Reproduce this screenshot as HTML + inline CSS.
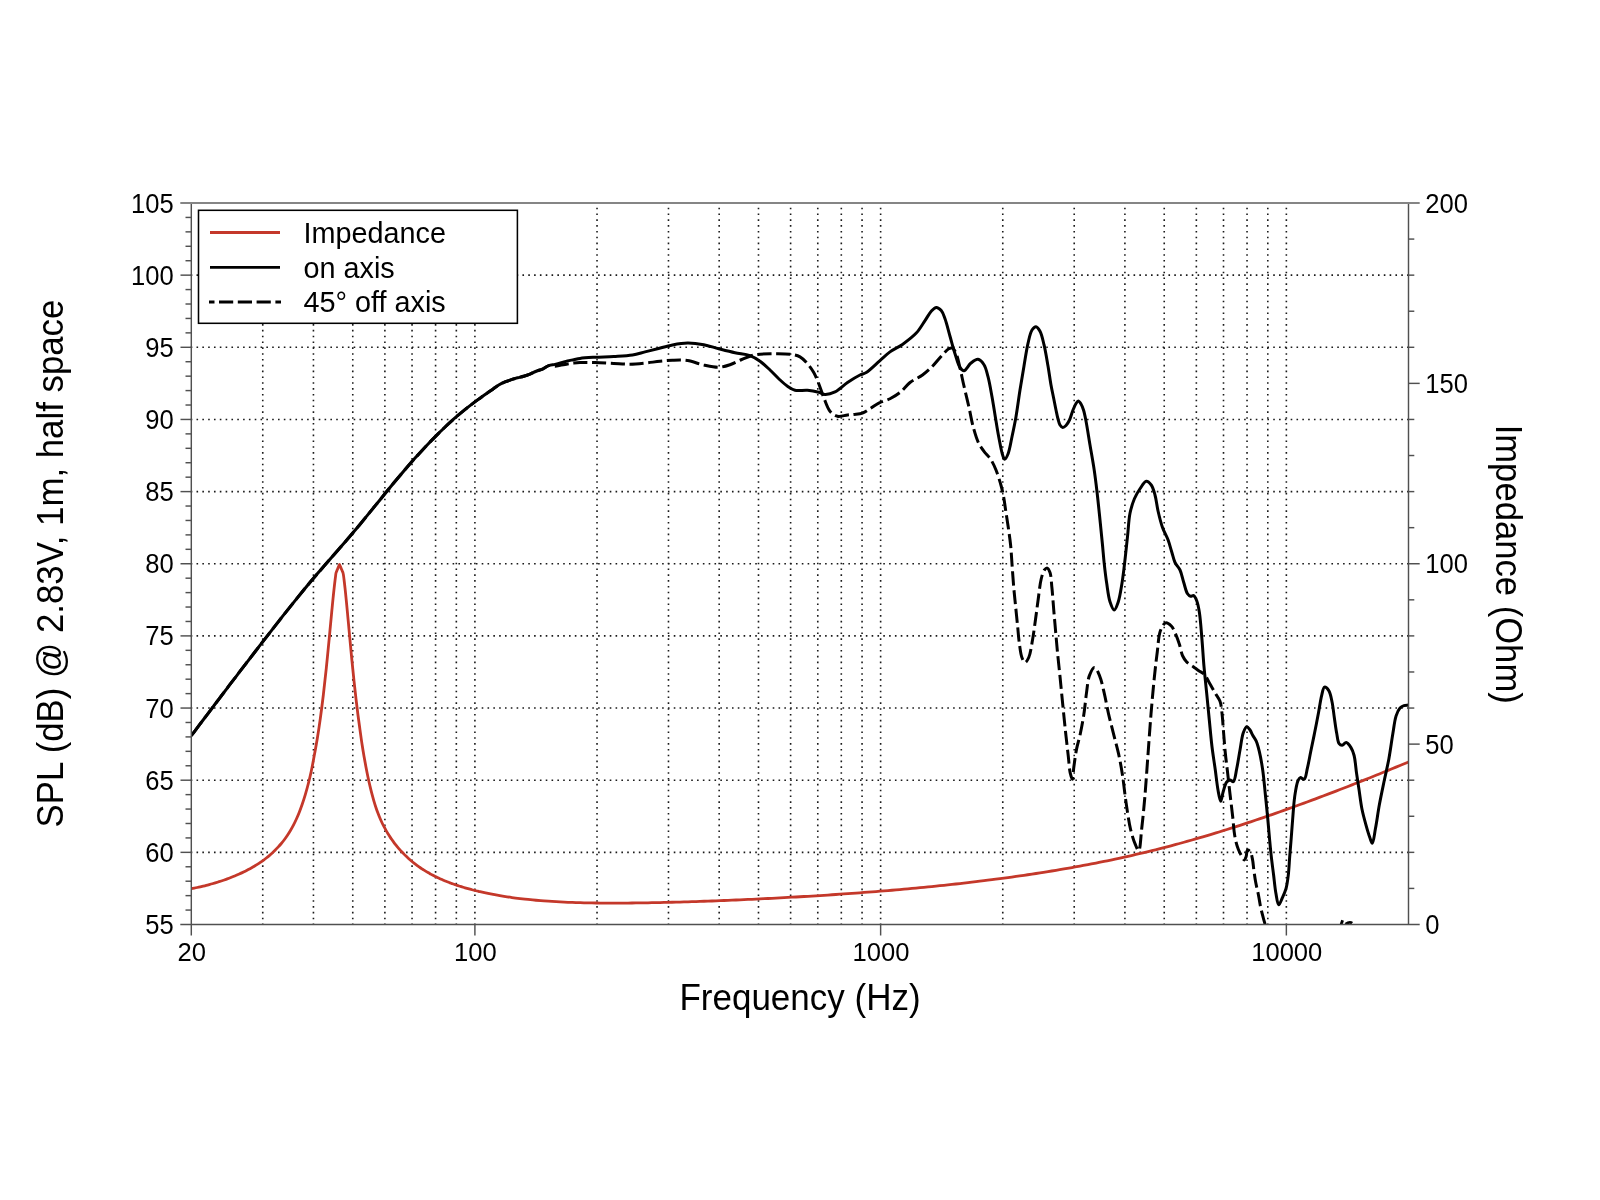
<!DOCTYPE html>
<html><head><meta charset="utf-8"><title>Chart</title>
<style>html,body{margin:0;padding:0;background:#fff;}svg{display:block;will-change:transform;}</style>
</head><body>
<svg width="1600" height="1200" viewBox="0 0 1600 1200">
<rect x="0" y="0" width="1600" height="1200" fill="#fff"/>
<g stroke="#1a1a1a" stroke-width="1.6" stroke-dasharray="1.6 4.22" fill="none"><line x1="262.75" y1="925.10" x2="262.75" y2="203.00"/><line x1="313.44" y1="925.10" x2="313.44" y2="203.00"/><line x1="352.76" y1="925.10" x2="352.76" y2="203.00"/><line x1="384.88" y1="925.10" x2="384.88" y2="203.00"/><line x1="412.05" y1="925.10" x2="412.05" y2="203.00"/><line x1="435.58" y1="925.10" x2="435.58" y2="203.00"/><line x1="456.33" y1="925.10" x2="456.33" y2="203.00"/><line x1="474.90" y1="925.10" x2="474.90" y2="203.00"/><line x1="597.03" y1="925.10" x2="597.03" y2="203.00"/><line x1="668.48" y1="925.10" x2="668.48" y2="203.00"/><line x1="719.17" y1="925.10" x2="719.17" y2="203.00"/><line x1="758.49" y1="925.10" x2="758.49" y2="203.00"/><line x1="790.62" y1="925.10" x2="790.62" y2="203.00"/><line x1="817.78" y1="925.10" x2="817.78" y2="203.00"/><line x1="841.31" y1="925.10" x2="841.31" y2="203.00"/><line x1="862.06" y1="925.10" x2="862.06" y2="203.00"/><line x1="880.63" y1="925.10" x2="880.63" y2="203.00"/><line x1="1002.77" y1="925.10" x2="1002.77" y2="203.00"/><line x1="1074.21" y1="925.10" x2="1074.21" y2="203.00"/><line x1="1124.90" y1="925.10" x2="1124.90" y2="203.00"/><line x1="1164.22" y1="925.10" x2="1164.22" y2="203.00"/><line x1="1196.35" y1="925.10" x2="1196.35" y2="203.00"/><line x1="1223.51" y1="925.10" x2="1223.51" y2="203.00"/><line x1="1247.04" y1="925.10" x2="1247.04" y2="203.00"/><line x1="1267.80" y1="925.10" x2="1267.80" y2="203.00"/><line x1="1286.36" y1="925.10" x2="1286.36" y2="203.00"/><line x1="190.70" y1="852.35" x2="1408.50" y2="852.35"/><line x1="190.70" y1="780.20" x2="1408.50" y2="780.20"/><line x1="190.70" y1="708.05" x2="1408.50" y2="708.05"/><line x1="190.70" y1="635.90" x2="1408.50" y2="635.90"/><line x1="190.70" y1="563.75" x2="1408.50" y2="563.75"/><line x1="190.70" y1="491.60" x2="1408.50" y2="491.60"/><line x1="190.70" y1="419.45" x2="1408.50" y2="419.45"/><line x1="190.70" y1="347.30" x2="1408.50" y2="347.30"/><line x1="190.70" y1="275.15" x2="1408.50" y2="275.15"/></g>
<defs><clipPath id="pc"><rect x="191.3" y="203.0" width="1217.2" height="722.0"/></clipPath></defs>
<g clip-path="url(#pc)" fill="none" stroke-linejoin="round">
<path d="M191.30,888.71 C192.30,888.52 193.30,888.33 194.30,888.13 C195.30,887.93 196.30,887.72 197.30,887.50 C198.30,887.29 199.30,887.07 200.30,886.84 C201.30,886.61 202.30,886.37 203.30,886.13 C204.30,885.89 205.30,885.64 206.30,885.38 C207.30,885.13 208.30,884.86 209.30,884.59 C210.30,884.32 211.30,884.05 212.30,883.76 C213.30,883.47 214.30,883.18 215.30,882.88 C216.30,882.58 217.30,882.27 218.30,881.96 C219.30,881.64 220.30,881.32 221.30,880.99 C222.30,880.65 223.30,880.31 224.30,879.96 C225.30,879.61 226.30,879.26 227.30,878.89 C228.30,878.52 229.30,878.15 230.30,877.76 C231.30,877.37 232.30,876.98 233.30,876.57 C234.30,876.17 235.30,875.75 236.30,875.32 C237.30,874.89 238.30,874.46 239.30,874.01 C240.30,873.56 241.30,873.09 242.30,872.62 C243.30,872.14 244.30,871.66 245.30,871.16 C246.30,870.65 247.30,870.14 248.30,869.61 C249.30,869.07 250.30,868.53 251.30,867.97 C252.30,867.40 253.30,866.82 254.30,866.22 C255.30,865.62 256.30,865.00 257.30,864.37 C258.30,863.73 259.31,863.07 260.30,862.39 C261.31,861.70 262.31,861.00 263.30,860.27 C264.31,859.54 265.31,858.78 266.30,858.00 C267.31,857.21 268.31,856.40 269.30,855.56 C270.31,854.70 271.31,853.82 272.30,852.91 C273.31,851.99 274.31,851.03 275.30,850.04 C276.31,849.03 277.31,847.99 278.30,846.92 C279.31,845.81 280.31,844.68 281.30,843.50 C282.31,842.28 283.32,841.03 284.30,839.72 C285.32,838.37 286.32,836.97 287.30,835.51 C288.32,833.99 289.32,832.41 290.30,830.77 C291.32,829.04 292.32,827.25 293.30,825.38 C294.33,823.42 295.33,821.37 296.30,819.23 C297.33,816.97 298.33,814.62 299.30,812.17 C300.33,809.57 301.33,806.87 302.30,804.05 C303.33,801.04 304.33,797.92 305.30,794.66 C306.34,791.17 307.33,787.55 308.30,783.77 C309.34,779.70 310.35,775.53 311.30,771.06 C312.36,766.11 313.32,760.68 314.30,755.35 C315.32,749.83 316.34,744.35 317.30,738.49 C318.34,732.14 319.34,725.51 320.30,718.61 C321.34,711.14 322.33,703.32 323.30,695.22 C324.34,686.51 325.33,677.38 326.30,668.06 C327.33,658.20 328.65,644.30 329.30,637.59 C329.62,634.28 329.79,632.44 330.00,630.18 C330.18,628.26 330.33,626.64 330.50,624.87 C330.67,623.10 330.83,621.33 331.00,619.56 C331.17,617.80 331.33,616.04 331.50,614.29 C331.67,612.54 331.83,610.80 332.00,609.06 C332.17,607.34 332.33,605.62 332.50,603.92 C332.67,602.23 332.83,600.55 333.00,598.89 C333.17,597.25 333.33,595.61 333.50,594.00 C333.67,592.42 333.83,590.85 334.00,589.30 C334.16,587.78 334.33,586.28 334.50,584.81 C334.66,583.38 334.83,581.96 335.00,580.58 C335.16,579.24 335.33,577.92 335.50,576.64 C335.66,575.41 335.78,573.96 336.00,573.04 C336.14,572.44 336.33,572.06 336.50,571.60 C336.66,571.18 336.83,570.80 337.00,570.40 C337.17,570.00 337.33,569.60 337.50,569.20 C337.67,568.80 337.83,568.40 338.00,568.00 C338.17,567.60 338.33,567.20 338.50,566.80 C338.67,566.40 338.83,566.00 339.00,565.60 C339.17,565.20 339.33,564.40 339.50,564.40 C339.67,564.40 339.83,565.20 340.00,565.60 C340.17,566.00 340.33,566.40 340.50,566.80 C340.67,567.20 340.83,567.60 341.00,568.00 C341.17,568.40 341.33,568.80 341.50,569.20 C341.67,569.60 341.83,570.00 342.00,570.40 C342.17,570.80 342.33,571.20 342.50,571.60 C342.67,572.00 342.85,572.31 343.00,572.80 C343.21,573.49 343.35,574.44 343.50,575.40 C343.69,576.56 343.84,577.95 344.00,579.27 C344.17,580.63 344.34,582.04 344.50,583.46 C344.67,584.92 344.84,586.42 345.00,587.93 C345.17,589.47 345.34,591.05 345.50,592.64 C345.67,594.26 345.83,595.90 346.00,597.55 C346.17,599.23 346.33,600.92 346.50,602.63 C346.67,604.35 346.83,606.09 347.00,607.84 C347.17,609.60 347.33,611.37 347.50,613.15 C347.67,614.93 347.83,616.73 348.00,618.52 C348.17,620.32 348.33,622.13 348.50,623.94 C348.67,625.75 348.83,627.56 349.00,629.37 C349.17,631.18 349.33,632.99 349.50,634.80 C349.67,636.60 349.78,637.81 350.00,640.20 C350.44,644.92 351.32,654.35 352.00,661.25 C352.66,667.93 353.32,674.53 354.00,680.95 C354.65,687.09 355.32,693.12 356.00,698.97 C356.65,704.53 357.31,709.97 358.00,715.24 C358.65,720.25 359.33,725.03 360.00,729.85 C360.66,734.59 361.31,739.41 362.00,743.94 C362.65,748.18 363.32,752.22 364.00,756.20 C364.65,759.98 365.32,763.66 366.00,767.24 C366.65,770.65 367.32,773.97 368.00,777.19 C368.65,780.26 369.32,783.24 370.00,786.14 C370.65,788.90 371.31,791.57 372.00,794.17 C372.65,796.63 373.31,799.03 374.00,801.34 C374.65,803.54 375.31,805.66 376.00,807.71 C376.65,809.65 377.31,811.52 378.00,813.33 C378.65,815.05 379.32,816.70 380.00,818.30 C380.65,819.83 381.32,821.30 382.00,822.73 C382.65,824.10 383.32,825.43 384.00,826.72 C384.66,827.97 385.32,829.17 386.00,830.36 C386.66,831.51 387.32,832.63 388.00,833.73 C388.66,834.80 389.33,835.85 390.00,836.87 C390.66,837.87 391.33,838.85 392.00,839.81 C392.66,840.74 393.33,841.66 394.00,842.56 C394.66,843.44 395.33,844.30 396.00,845.15 C396.66,845.98 397.33,846.79 398.00,847.58 C398.66,848.37 399.33,849.13 400.00,849.89 C400.66,850.63 401.33,851.35 402.00,852.07 C402.66,852.77 403.33,853.46 404.00,854.13 C404.66,854.80 405.33,855.46 406.00,856.10 C406.66,856.73 407.33,857.36 408.00,857.97 C408.66,858.57 409.33,859.17 410.00,859.75 C410.66,860.33 411.33,860.89 412.00,861.45 C412.66,862.00 413.33,862.54 414.00,863.07 C414.66,863.60 415.33,864.12 416.00,864.62 C416.66,865.13 417.33,865.62 418.00,866.10 C418.66,866.58 419.33,867.06 420.00,867.52 C420.66,867.98 421.33,868.43 422.00,868.87 C422.66,869.31 423.33,869.74 424.00,870.16 C424.66,870.58 425.33,870.99 426.00,871.40 C426.66,871.80 427.33,872.19 428.00,872.58 C428.66,872.96 429.33,873.34 430.00,873.71 C430.67,874.07 431.33,874.44 432.00,874.79 C432.67,875.14 433.33,875.49 434.00,875.83 C434.67,876.17 435.33,876.50 436.00,876.83 C436.67,877.15 437.33,877.47 438.00,877.78 C438.67,878.10 439.33,878.40 440.00,878.71 C440.67,879.01 441.33,879.30 442.00,879.59 C442.67,879.88 443.33,880.17 444.00,880.45 C444.67,880.73 445.33,881.00 446.00,881.27 C446.67,881.54 447.33,881.80 448.00,882.06 C448.67,882.32 449.33,882.58 450.00,882.83 C450.67,883.08 451.33,883.32 452.00,883.57 C452.67,883.81 453.33,884.05 454.00,884.28 C454.67,884.51 455.33,884.74 456.00,884.97 C456.67,885.19 457.33,885.42 458.00,885.64 C458.67,885.85 459.33,886.07 460.00,886.28 C460.67,886.49 461.33,886.70 462.00,886.90 C462.67,887.11 463.33,887.31 464.00,887.51 C464.67,887.70 465.33,887.90 466.00,888.09 C466.67,888.28 467.33,888.47 468.00,888.66 C468.67,888.84 469.33,889.02 470.00,889.20 C470.67,889.38 471.33,889.56 472.00,889.74 C472.67,889.91 473.33,890.08 474.00,890.25 C474.67,890.42 475.33,890.59 476.00,890.75 C476.67,890.91 477.33,891.07 478.00,891.23 C478.67,891.39 479.11,891.50 480.00,891.70 C481.78,892.10 485.33,892.89 488.00,893.44 C490.66,893.99 493.33,894.50 496.00,894.98 C498.66,895.46 501.33,895.91 504.00,896.34 C506.66,896.76 509.33,897.16 512.00,897.53 C514.66,897.91 517.33,898.25 520.00,898.58 C522.67,898.90 525.33,899.20 528.00,899.48 C530.67,899.76 533.33,900.01 536.00,900.25 C538.67,900.49 541.33,900.71 544.00,900.91 C546.67,901.11 549.33,901.29 552.00,901.46 C554.67,901.62 557.33,901.77 560.00,901.91 C562.67,902.05 565.33,902.17 568.00,902.28 C570.67,902.39 573.33,902.49 576.00,902.57 C578.67,902.66 581.33,902.73 584.00,902.79 C586.67,902.86 589.33,902.91 592.00,902.95 C594.67,902.99 597.33,903.03 600.00,903.05 C602.67,903.08 605.33,903.09 608.00,903.10 C610.67,903.11 613.33,903.11 616.00,903.11 C618.67,903.10 621.33,903.09 624.00,903.08 C626.67,903.06 629.33,903.04 632.00,903.01 C634.67,902.98 637.33,902.95 640.00,902.91 C642.67,902.87 645.33,902.83 648.00,902.78 C650.67,902.74 653.33,902.69 656.00,902.63 C658.67,902.58 661.33,902.52 664.00,902.46 C666.67,902.39 669.33,902.33 672.00,902.26 C674.67,902.19 677.33,902.11 680.00,902.04 C682.67,901.96 685.33,901.88 688.00,901.80 C690.67,901.72 693.33,901.63 696.00,901.54 C698.67,901.45 701.33,901.36 704.00,901.27 C706.67,901.17 709.33,901.08 712.00,900.98 C714.67,900.88 717.33,900.77 720.00,900.67 C722.67,900.56 725.33,900.46 728.00,900.35 C730.67,900.24 733.33,900.12 736.00,900.01 C738.67,899.89 741.33,899.77 744.00,899.65 C746.67,899.53 749.33,899.41 752.00,899.29 C754.67,899.16 757.33,899.03 760.00,898.90 C762.67,898.77 765.33,898.64 768.00,898.50 C770.67,898.37 773.33,898.23 776.00,898.09 C778.67,897.95 781.33,897.81 784.00,897.66 C786.67,897.52 789.33,897.37 792.00,897.22 C794.67,897.07 797.33,896.91 800.00,896.76 C802.67,896.60 805.33,896.44 808.00,896.28 C810.67,896.12 813.33,895.96 816.00,895.79 C818.67,895.62 821.33,895.45 824.00,895.28 C826.67,895.11 829.33,894.94 832.00,894.76 C834.67,894.58 837.33,894.40 840.00,894.21 C842.67,894.03 845.33,893.84 848.00,893.65 C850.67,893.46 853.33,893.27 856.00,893.07 C858.67,892.88 861.33,892.68 864.00,892.47 C866.67,892.27 869.33,892.07 872.00,891.86 C874.67,891.65 877.33,891.43 880.00,891.22 C882.67,891.00 885.33,890.78 888.00,890.56 C890.67,890.33 893.33,890.11 896.00,889.87 C898.67,889.64 901.33,889.41 904.00,889.17 C906.67,888.93 909.33,888.69 912.00,888.44 C914.67,888.19 917.33,887.94 920.00,887.69 C922.67,887.43 925.33,887.18 928.00,886.91 C930.67,886.65 933.33,886.38 936.00,886.11 C938.67,885.84 941.33,885.56 944.00,885.28 C946.67,885.00 949.33,884.71 952.00,884.42 C954.67,884.13 957.33,883.84 960.00,883.54 C962.67,883.24 965.33,882.93 968.00,882.62 C970.67,882.31 973.33,882.00 976.00,881.68 C978.67,881.36 981.33,881.03 984.00,880.70 C986.67,880.37 989.33,880.03 992.00,879.69 C994.67,879.35 997.33,879.00 1000.00,878.65 C1002.67,878.29 1005.33,877.93 1008.00,877.57 C1010.67,877.20 1013.33,876.83 1016.00,876.45 C1018.67,876.07 1021.33,875.69 1024.00,875.30 C1026.67,874.91 1029.33,874.51 1032.00,874.11 C1034.67,873.70 1037.33,873.29 1040.00,872.88 C1042.67,872.46 1045.33,872.04 1048.00,871.60 C1050.67,871.17 1053.33,870.73 1056.00,870.29 C1058.67,869.84 1061.33,869.39 1064.00,868.93 C1066.67,868.47 1069.33,868.00 1072.00,867.52 C1074.67,867.05 1077.33,866.56 1080.00,866.07 C1082.67,865.58 1085.33,865.08 1088.00,864.57 C1090.67,864.06 1093.33,863.55 1096.00,863.02 C1098.67,862.50 1101.33,861.96 1104.00,861.42 C1106.67,860.88 1109.33,860.33 1112.00,859.77 C1114.67,859.21 1117.33,858.64 1120.00,858.06 C1122.67,857.48 1125.33,856.90 1128.00,856.30 C1130.67,855.70 1133.33,855.09 1136.00,854.48 C1138.67,853.86 1141.33,853.24 1144.00,852.60 C1146.67,851.96 1149.33,851.32 1152.00,850.66 C1154.67,850.00 1157.33,849.33 1160.00,848.66 C1162.67,847.98 1165.33,847.29 1168.00,846.59 C1170.67,845.89 1173.33,845.18 1176.00,844.46 C1178.67,843.74 1181.33,843.01 1184.00,842.26 C1186.67,841.52 1189.33,840.77 1192.00,840.01 C1194.67,839.25 1197.33,838.48 1200.00,837.70 C1202.67,836.92 1205.33,836.13 1208.00,835.33 C1210.67,834.53 1213.33,833.72 1216.00,832.91 C1218.67,832.09 1221.33,831.27 1224.00,830.43 C1226.67,829.60 1229.33,828.75 1232.00,827.90 C1234.67,827.05 1237.33,826.19 1240.00,825.33 C1242.67,824.46 1245.33,823.59 1248.00,822.70 C1250.67,821.82 1253.33,820.93 1256.00,820.03 C1258.67,819.13 1261.33,818.23 1264.00,817.32 C1266.67,816.40 1269.33,815.48 1272.00,814.56 C1274.67,813.63 1277.33,812.70 1280.00,811.76 C1282.67,810.82 1285.33,809.87 1288.00,808.92 C1290.67,807.96 1293.33,807.00 1296.00,806.04 C1298.67,805.07 1301.33,804.10 1304.00,803.12 C1306.67,802.14 1309.33,801.15 1312.00,800.16 C1314.67,799.17 1317.33,798.18 1320.00,797.17 C1322.67,796.17 1325.33,795.16 1328.00,794.15 C1330.67,793.13 1333.33,792.11 1336.00,791.09 C1338.67,790.06 1341.33,789.03 1344.00,788.00 C1346.67,786.96 1349.33,785.92 1352.00,784.87 C1354.67,783.83 1357.33,782.77 1360.00,781.72 C1362.67,780.66 1365.33,779.60 1368.00,778.53 C1370.67,777.47 1373.33,776.39 1376.00,775.32 C1378.67,774.24 1381.33,773.16 1384.00,772.07 C1386.67,770.99 1389.33,769.90 1392.00,768.80 C1394.67,767.70 1397.33,766.60 1400.00,765.50 C1402.67,764.39 1406.93,762.61 1408.00,762.17 C1408.27,762.06 1408.33,762.03 1408.50,761.96" stroke="#c4382a" stroke-width="2.8"/>
<path d="M191.30,735.78 C193.63,732.66 195.97,729.53 198.30,726.41 C200.63,723.30 202.97,720.19 205.30,717.08 C207.63,713.98 209.97,710.88 212.30,707.79 C214.63,704.70 216.97,701.61 219.30,698.53 C221.63,695.45 223.97,692.37 226.30,689.30 C228.63,686.24 230.97,683.17 233.30,680.11 C235.63,677.06 237.97,674.00 240.30,670.96 C242.63,667.91 244.97,664.87 247.30,661.83 C249.63,658.79 251.97,655.76 254.30,652.73 C256.63,649.71 258.97,646.69 261.30,643.67 C263.63,640.65 265.97,637.64 268.30,634.63 C270.63,631.63 272.96,628.63 275.30,625.63 C277.63,622.65 279.96,619.66 282.30,616.69 C284.63,613.73 286.96,610.78 289.30,607.84 C291.63,604.91 293.96,601.99 296.30,599.10 C298.63,596.21 300.96,593.34 303.30,590.49 C305.63,587.66 307.96,584.84 310.30,582.05 C312.63,579.28 314.96,576.53 317.30,573.80 C319.63,571.09 321.96,568.40 324.30,565.71 C326.63,563.04 328.97,560.38 331.30,557.72 C333.63,555.05 335.97,552.40 338.30,549.73 C340.64,547.06 342.97,544.39 345.30,541.70 C347.64,538.99 349.97,536.27 352.30,533.53 C354.64,530.76 356.97,527.97 359.30,525.17 C361.64,522.35 363.97,519.51 366.30,516.66 C368.64,513.80 370.97,510.93 373.30,508.06 C375.63,505.18 377.97,502.30 380.30,499.43 C382.63,496.55 384.96,493.68 387.30,490.82 C389.63,487.98 391.96,485.13 394.30,482.32 C396.63,479.51 398.96,476.72 401.30,473.96 C403.63,471.22 405.96,468.50 408.30,465.81 C410.62,463.14 412.96,460.49 415.30,457.87 C417.62,455.28 419.96,452.71 422.30,450.18 C424.62,447.67 426.96,445.19 429.30,442.74 C431.62,440.32 433.95,437.93 436.30,435.58 C438.62,433.26 440.95,430.96 443.30,428.72 C445.62,426.49 447.95,424.31 450.30,422.17 C452.62,420.05 454.95,417.97 457.30,415.95 C459.62,413.95 461.95,411.99 464.30,410.08 C466.62,408.20 468.95,406.36 471.30,404.57 C473.62,402.80 476.76,400.50 478.30,399.38 C479.06,398.83 479.25,398.69 480.00,398.16 C481.43,397.14 484.16,395.21 486.25,393.75 C488.33,392.29 490.42,390.86 492.50,389.40 C494.59,387.94 496.62,386.27 498.75,385.00 C500.79,383.79 502.89,382.79 505.00,381.90 C507.06,381.03 509.16,380.39 511.25,379.70 C513.33,379.02 515.41,378.38 517.50,377.80 C519.58,377.23 521.68,376.86 523.75,376.25 C525.85,375.63 527.94,374.92 530.00,374.10 C532.10,373.26 534.15,372.09 536.25,371.25 C538.31,370.43 540.46,370.01 542.50,369.10 C544.63,368.15 546.59,366.04 548.75,365.60 C550.77,365.18 552.92,366.35 555.00,366.25 C557.09,366.15 559.16,365.38 561.25,365.00 C563.33,364.63 565.42,364.32 567.50,364.00 C569.58,363.68 571.66,363.33 573.75,363.10 C575.83,362.87 577.47,362.70 580.00,362.60 C583.92,362.44 589.72,362.47 595.00,362.60 C600.90,362.74 607.72,363.23 613.75,363.50 C619.36,363.76 624.69,364.28 630.00,364.20 C635.10,364.12 640.01,363.59 645.00,363.10 C650.01,362.61 655.22,361.74 660.00,361.25 C664.35,360.81 668.14,360.37 672.50,360.25 C677.27,360.12 682.44,359.87 687.50,360.60 C692.85,361.38 698.41,363.88 703.75,365.00 C708.82,366.06 714.12,367.41 718.75,367.25 C722.78,367.11 726.31,365.97 730.00,364.75 C733.81,363.49 737.38,361.34 741.25,359.75 C745.28,358.09 749.08,356.02 753.75,355.00 C759.29,353.79 766.25,353.85 772.50,353.75 C778.75,353.65 786.22,353.61 791.25,354.40 C794.76,354.95 797.35,355.42 800.00,356.90 C802.80,358.46 805.23,361.19 807.50,363.75 C809.83,366.38 811.92,369.30 813.75,372.50 C815.71,375.92 817.15,379.78 818.75,383.75 C820.50,388.08 821.89,392.95 823.75,397.50 C825.64,402.12 827.27,408.04 830.00,411.25 C832.11,413.73 834.68,415.58 837.50,416.25 C840.48,416.95 844.55,415.33 847.50,415.00 C849.82,414.74 851.50,414.68 853.75,414.40 C856.43,414.07 859.78,414.05 862.50,413.10 C865.19,412.16 867.42,410.33 870.00,408.75 C872.82,407.02 875.56,404.73 878.75,403.10 C882.18,401.35 886.44,400.53 890.00,398.75 C893.52,396.99 896.80,395.04 900.00,392.50 C903.50,389.72 906.28,385.40 910.00,382.50 C913.77,379.55 918.68,377.78 922.50,375.00 C926.15,372.34 929.38,369.38 932.50,366.25 C935.62,363.12 938.40,359.30 941.25,356.25 C943.80,353.52 946.51,349.91 948.75,348.75 C950.09,348.05 951.38,347.62 952.50,348.10 C953.99,348.74 955.16,351.33 956.25,353.75 C957.85,357.32 958.82,363.10 960.00,368.00 C961.24,373.17 962.19,378.23 963.50,384.00 C965.05,390.81 967.10,398.93 968.75,406.25 C970.36,413.36 971.51,420.81 973.30,427.30 C974.89,433.05 976.59,438.99 978.70,443.30 C980.29,446.55 982.05,448.69 984.00,451.30 C986.03,454.02 988.75,456.31 990.70,459.30 C992.79,462.50 994.37,465.99 996.00,470.00 C997.95,474.79 999.90,481.30 1001.25,486.25 C1002.36,490.32 1003.04,493.64 1003.75,497.50 C1004.50,501.54 1004.93,505.56 1005.60,510.00 C1006.36,515.06 1007.29,520.64 1008.10,526.25 C1008.96,532.27 1009.96,538.85 1010.60,545.00 C1011.21,550.92 1011.43,556.15 1011.90,562.50 C1012.46,570.09 1013.08,579.77 1013.75,587.50 C1014.33,594.20 1014.98,600.00 1015.60,606.25 C1016.23,612.50 1016.87,618.75 1017.50,625.00 C1018.13,631.25 1018.59,638.00 1019.40,643.75 C1020.10,648.70 1020.61,654.14 1021.90,657.50 C1022.74,659.68 1023.88,662.45 1025.00,662.50 C1026.16,662.55 1027.69,659.83 1028.75,657.50 C1030.54,653.56 1031.40,646.14 1032.50,640.00 C1033.71,633.28 1034.64,625.61 1035.60,618.75 C1036.50,612.31 1037.19,606.44 1038.10,600.00 C1039.07,593.13 1039.87,584.23 1041.25,578.75 C1042.16,575.14 1043.03,571.75 1044.40,570.00 C1045.23,568.94 1046.39,567.92 1047.25,568.10 C1048.31,568.33 1049.28,570.49 1050.00,572.50 C1051.22,575.93 1051.32,581.99 1051.90,587.50 C1052.60,594.24 1053.12,602.61 1053.75,610.00 C1054.36,617.19 1054.98,624.17 1055.60,631.25 C1056.23,638.33 1056.79,645.13 1057.50,652.50 C1058.27,660.50 1059.24,668.97 1060.10,677.50 C1061.00,686.45 1061.88,695.84 1062.80,705.00 C1063.72,714.14 1064.65,723.58 1065.60,732.40 C1066.49,740.64 1067.48,749.07 1068.30,756.30 C1068.99,762.31 1069.25,768.62 1070.20,772.80 C1070.81,775.47 1071.83,779.26 1072.40,779.20 C1073.16,779.12 1073.21,771.69 1073.80,767.30 C1074.54,761.83 1075.46,754.65 1076.60,748.90 C1077.63,743.73 1079.07,739.58 1080.20,734.30 C1081.52,728.13 1082.85,720.99 1083.90,714.10 C1084.99,706.94 1085.61,698.90 1086.60,692.10 C1087.46,686.19 1087.73,680.02 1089.40,675.60 C1090.67,672.24 1092.81,667.39 1094.50,667.40 C1096.18,667.41 1098.07,672.27 1099.50,675.60 C1101.41,680.04 1102.58,686.18 1104.00,692.10 C1105.63,698.88 1106.92,706.78 1108.60,714.10 C1110.29,721.45 1112.35,729.10 1114.10,736.10 C1115.70,742.48 1117.34,748.13 1118.70,754.40 C1120.12,760.94 1121.26,767.33 1122.40,774.60 C1123.73,783.05 1124.63,792.95 1126.00,802.10 C1127.37,811.25 1128.77,821.83 1130.60,829.50 C1131.97,835.21 1133.57,840.37 1135.20,844.20 C1136.32,846.84 1137.75,850.77 1138.70,850.60 C1140.35,850.30 1140.76,836.69 1141.70,828.75 C1142.82,819.27 1143.83,808.67 1144.80,797.50 C1145.92,784.61 1146.87,769.69 1147.90,755.80 C1148.93,741.92 1149.90,727.51 1151.00,714.20 C1152.01,701.91 1153.07,689.76 1154.20,678.75 C1155.19,669.12 1156.19,660.13 1157.30,651.70 C1158.28,644.28 1158.43,635.95 1160.40,630.80 C1161.72,627.35 1163.56,623.41 1165.60,622.90 C1167.29,622.48 1169.74,624.44 1171.30,626.00 C1173.07,627.76 1174.06,630.59 1175.30,633.30 C1176.76,636.48 1178.09,640.31 1179.30,644.00 C1180.57,647.86 1181.21,652.78 1182.70,656.00 C1183.83,658.45 1185.01,660.25 1186.70,662.00 C1188.50,663.85 1191.22,665.19 1193.30,666.70 C1195.20,668.08 1196.88,669.46 1198.70,670.70 C1200.45,671.89 1202.40,672.39 1204.00,674.00 C1206.04,676.06 1207.50,679.64 1209.30,682.70 C1211.26,686.04 1213.41,690.02 1215.30,693.30 C1216.95,696.16 1218.89,698.25 1220.00,701.30 C1221.27,704.79 1221.45,708.87 1222.00,713.30 C1222.67,718.72 1222.98,725.18 1223.50,731.50 C1224.07,738.37 1224.62,746.26 1225.30,753.00 C1225.90,759.00 1226.59,763.85 1227.30,770.00 C1228.14,777.31 1229.09,786.11 1230.00,794.00 C1230.89,801.67 1231.96,809.89 1232.70,816.70 C1233.31,822.27 1233.63,827.60 1234.20,831.90 C1234.63,835.09 1234.95,837.39 1235.60,840.20 C1236.29,843.18 1237.18,846.47 1238.30,849.30 C1239.34,851.94 1240.84,854.78 1242.00,856.70 C1242.80,858.03 1243.61,859.94 1244.30,859.90 C1244.97,859.86 1245.61,858.00 1246.10,856.70 C1246.76,854.95 1246.52,850.66 1247.50,850.20 C1248.16,849.89 1249.46,850.71 1250.20,851.60 C1251.40,853.06 1251.90,856.55 1252.50,859.40 C1253.20,862.73 1253.38,866.66 1253.90,870.40 C1254.44,874.29 1254.96,878.27 1255.70,882.30 C1256.48,886.53 1257.65,890.90 1258.50,895.20 C1259.35,899.47 1259.96,904.10 1260.80,908.00 C1261.52,911.33 1262.36,914.42 1263.10,917.20 C1263.72,919.53 1264.33,921.46 1264.90,923.60 C1265.47,925.73 1265.97,927.87 1266.50,930.00" stroke="#000" stroke-width="3.0" stroke-dasharray="14.1 4.65" stroke-dashoffset="-3.15"/>
<path d="M191.30,735.78 C193.63,732.66 195.97,729.53 198.30,726.41 C200.63,723.30 202.97,720.19 205.30,717.08 C207.63,713.98 209.97,710.88 212.30,707.79 C214.63,704.70 216.97,701.61 219.30,698.53 C221.63,695.45 223.97,692.37 226.30,689.30 C228.63,686.24 230.97,683.17 233.30,680.11 C235.63,677.06 237.97,674.00 240.30,670.96 C242.63,667.91 244.97,664.87 247.30,661.83 C249.63,658.79 251.97,655.76 254.30,652.73 C256.63,649.71 258.97,646.69 261.30,643.67 C263.63,640.65 265.97,637.64 268.30,634.63 C270.63,631.63 272.96,628.63 275.30,625.63 C277.63,622.65 279.96,619.66 282.30,616.69 C284.63,613.73 286.96,610.78 289.30,607.84 C291.63,604.91 293.96,601.99 296.30,599.10 C298.63,596.21 300.96,593.34 303.30,590.49 C305.63,587.66 307.96,584.84 310.30,582.05 C312.63,579.28 314.96,576.53 317.30,573.80 C319.63,571.09 321.96,568.40 324.30,565.71 C326.63,563.04 328.97,560.38 331.30,557.72 C333.63,555.05 335.97,552.40 338.30,549.73 C340.64,547.06 342.97,544.39 345.30,541.70 C347.64,538.99 349.97,536.27 352.30,533.53 C354.64,530.76 356.97,527.97 359.30,525.17 C361.64,522.35 363.97,519.51 366.30,516.66 C368.64,513.80 370.97,510.93 373.30,508.06 C375.63,505.18 377.97,502.30 380.30,499.43 C382.63,496.55 384.96,493.68 387.30,490.82 C389.63,487.98 391.96,485.13 394.30,482.32 C396.63,479.51 398.96,476.72 401.30,473.96 C403.63,471.22 405.96,468.50 408.30,465.81 C410.62,463.14 412.96,460.49 415.30,457.87 C417.62,455.28 419.96,452.71 422.30,450.18 C424.62,447.67 426.96,445.19 429.30,442.74 C431.62,440.32 433.95,437.93 436.30,435.58 C438.62,433.26 440.95,430.96 443.30,428.72 C445.62,426.49 447.95,424.31 450.30,422.17 C452.62,420.05 454.95,417.97 457.30,415.95 C459.62,413.95 461.95,411.99 464.30,410.08 C466.62,408.20 468.95,406.36 471.30,404.57 C473.62,402.80 476.76,400.50 478.30,399.38 C479.06,398.83 479.25,398.69 480.00,398.16 C481.43,397.14 484.16,395.21 486.25,393.75 C488.33,392.29 490.42,390.86 492.50,389.40 C494.59,387.94 496.62,386.27 498.75,385.00 C500.79,383.79 502.89,382.79 505.00,381.90 C507.06,381.03 509.16,380.39 511.25,379.70 C513.33,379.02 515.41,378.38 517.50,377.80 C519.58,377.23 521.68,376.86 523.75,376.25 C525.85,375.63 527.94,374.92 530.00,374.10 C532.10,373.26 534.15,372.09 536.25,371.25 C538.31,370.43 540.46,370.01 542.50,369.10 C544.63,368.15 546.60,366.38 548.75,365.60 C550.78,364.86 552.92,364.86 555.00,364.40 C557.09,363.93 559.17,363.38 561.25,362.80 C563.34,362.22 565.40,361.42 567.50,360.90 C569.57,360.39 571.67,360.12 573.75,359.70 C575.83,359.28 577.45,358.76 580.00,358.40 C583.91,357.85 589.72,357.56 595.00,357.25 C600.90,356.91 607.50,356.87 613.75,356.50 C620.00,356.12 626.91,355.91 632.50,355.00 C637.12,354.25 640.83,352.94 645.00,351.90 C649.17,350.86 653.14,349.84 657.50,348.75 C662.27,347.55 667.47,345.94 672.50,345.00 C677.47,344.07 682.40,343.16 687.50,343.10 C692.80,343.03 698.48,343.79 703.75,344.75 C708.89,345.69 713.64,347.44 718.75,348.75 C724.05,350.11 729.68,351.59 735.00,352.75 C740.08,353.86 745.62,354.00 750.00,355.60 C753.80,356.99 756.78,358.97 760.00,361.25 C763.46,363.70 766.82,367.03 770.00,370.00 C773.06,372.87 775.78,376.00 778.75,378.75 C781.62,381.40 784.59,384.26 787.50,386.25 C790.00,387.96 792.08,389.52 795.00,390.25 C798.54,391.14 803.46,389.89 807.50,390.25 C811.36,390.59 815.57,391.43 818.75,392.25 C821.17,392.88 822.66,394.30 825.00,394.40 C827.93,394.53 831.64,393.50 835.00,391.90 C839.13,389.93 843.26,385.36 847.50,382.50 C851.60,379.74 856.49,376.74 860.00,375.00 C862.39,373.82 863.90,373.93 866.25,372.50 C870.11,370.15 875.78,364.26 880.00,360.60 C883.60,357.48 886.35,354.55 890.00,351.90 C893.82,349.12 898.34,347.33 902.50,344.40 C907.09,341.16 912.41,337.25 916.25,333.10 C919.80,329.26 922.35,324.48 925.00,320.60 C927.28,317.27 929.08,313.54 931.25,311.25 C932.87,309.54 934.56,307.57 936.25,307.50 C937.89,307.43 939.88,309.04 941.25,310.60 C942.95,312.52 943.78,315.46 945.00,318.75 C946.73,323.43 948.33,330.42 950.00,336.25 C951.67,342.08 953.23,348.30 955.00,353.75 C956.59,358.64 957.96,364.66 960.00,367.50 C961.20,369.18 962.56,370.82 964.00,370.70 C966.02,370.54 968.24,365.24 970.70,363.30 C972.95,361.53 975.77,359.04 978.00,359.30 C980.20,359.56 982.42,362.28 984.00,364.70 C985.98,367.73 986.79,372.15 988.00,376.70 C989.53,382.48 990.78,390.02 992.00,396.70 C993.21,403.36 994.18,410.03 995.30,416.70 C996.42,423.37 997.44,430.17 998.70,436.70 C999.92,443.03 1001.34,451.42 1002.70,455.30 C1003.36,457.18 1003.91,459.26 1004.70,459.30 C1005.63,459.34 1007.02,456.38 1008.00,454.00 C1009.66,449.98 1010.71,442.69 1012.00,436.70 C1013.38,430.28 1014.75,423.86 1016.00,416.70 C1017.44,408.46 1018.63,398.66 1020.00,390.00 C1021.30,381.78 1022.65,373.89 1024.00,366.00 C1025.32,358.32 1026.45,349.82 1028.00,343.30 C1029.20,338.24 1030.14,332.80 1032.00,330.00 C1033.14,328.29 1034.72,326.59 1036.00,326.70 C1037.39,326.82 1038.85,329.20 1040.00,331.30 C1041.75,334.48 1042.78,339.68 1044.00,344.70 C1045.51,350.95 1046.81,359.09 1048.00,366.00 C1049.12,372.51 1049.99,379.34 1051.00,385.00 C1051.82,389.61 1052.67,393.33 1053.50,397.50 C1054.33,401.67 1055.19,406.18 1056.00,410.00 C1056.69,413.25 1057.26,416.32 1058.00,419.00 C1058.61,421.22 1059.03,423.52 1060.00,425.00 C1060.74,426.14 1061.76,427.41 1062.75,427.50 C1063.76,427.59 1065.00,426.49 1066.00,425.50 C1067.31,424.21 1068.44,422.18 1069.50,420.00 C1070.85,417.22 1071.81,412.95 1073.00,410.00 C1073.98,407.57 1074.94,405.10 1076.00,403.50 C1076.72,402.40 1077.46,401.00 1078.25,401.00 C1079.12,401.00 1080.20,402.74 1081.00,404.00 C1082.01,405.59 1082.77,407.71 1083.50,410.00 C1084.42,412.88 1084.99,415.90 1085.80,420.00 C1087.08,426.44 1088.60,436.67 1090.00,445.00 C1091.40,453.33 1093.00,461.95 1094.20,470.00 C1095.31,477.48 1096.09,483.98 1097.00,491.70 C1098.03,500.50 1099.06,510.86 1100.00,520.00 C1100.88,528.59 1101.76,537.31 1102.50,545.00 C1103.13,551.57 1103.52,557.07 1104.20,563.30 C1104.91,569.82 1105.71,576.79 1106.70,583.30 C1107.65,589.57 1108.38,596.86 1110.00,601.70 C1111.14,605.11 1112.82,610.01 1114.20,610.00 C1115.58,609.99 1117.16,605.03 1118.30,601.70 C1119.85,597.18 1120.73,590.71 1121.70,585.00 C1122.71,579.06 1123.35,573.56 1124.20,566.70 C1125.28,557.94 1126.48,546.08 1127.50,536.70 C1128.40,528.42 1128.62,520.12 1130.00,513.30 C1131.11,507.82 1132.57,503.06 1134.40,498.75 C1135.99,495.01 1137.93,491.76 1140.00,488.75 C1141.91,485.97 1144.17,481.49 1146.25,481.25 C1147.92,481.06 1149.89,483.19 1151.25,485.00 C1153.03,487.37 1153.94,491.21 1155.00,495.00 C1156.32,499.71 1156.86,505.86 1158.10,511.25 C1159.35,516.69 1160.72,522.50 1162.50,527.50 C1164.11,532.01 1166.52,535.78 1168.10,540.00 C1169.64,544.12 1170.69,548.57 1171.90,552.50 C1172.98,556.02 1173.57,559.50 1175.00,562.50 C1176.33,565.29 1178.62,567.06 1180.00,570.00 C1181.66,573.53 1182.47,578.45 1183.75,582.50 C1184.97,586.36 1185.91,591.46 1187.50,593.75 C1188.42,595.07 1189.50,595.98 1190.60,596.25 C1191.59,596.49 1192.83,595.18 1193.75,595.60 C1195.06,596.20 1196.03,598.97 1196.90,601.25 C1198.06,604.29 1198.67,607.90 1199.40,612.50 C1200.52,619.62 1201.23,630.90 1202.00,640.00 C1202.76,648.96 1203.22,657.81 1204.00,666.70 C1204.78,675.58 1205.82,684.42 1206.70,693.30 C1207.58,702.19 1208.42,711.10 1209.30,720.00 C1210.18,728.90 1210.96,738.11 1212.00,746.70 C1212.98,754.74 1214.27,762.53 1215.30,770.00 C1216.26,776.92 1216.94,784.30 1218.00,790.00 C1218.81,794.32 1219.79,801.29 1220.70,801.30 C1221.56,801.31 1222.29,794.55 1223.30,791.30 C1224.29,788.12 1225.18,783.85 1226.70,782.00 C1227.65,780.85 1228.89,780.04 1230.00,780.00 C1231.09,779.96 1232.37,782.11 1233.30,781.70 C1235.06,780.91 1235.66,773.45 1236.70,768.70 C1237.93,763.05 1238.88,756.11 1240.00,750.00 C1241.08,744.12 1241.76,736.89 1243.30,732.70 C1244.26,730.08 1245.45,726.87 1246.70,726.70 C1247.72,726.56 1249.04,728.68 1250.00,730.00 C1251.08,731.49 1251.72,733.54 1252.70,735.30 C1253.71,737.11 1255.02,738.53 1256.00,740.70 C1257.30,743.58 1258.30,747.23 1259.30,751.30 C1260.61,756.62 1261.74,763.36 1262.70,770.00 C1263.78,777.48 1264.47,786.00 1265.30,794.00 C1266.13,802.00 1266.98,810.33 1267.70,818.00 C1268.36,825.05 1268.88,831.70 1269.50,838.30 C1270.09,844.59 1270.62,850.58 1271.30,856.70 C1271.98,862.81 1272.83,868.90 1273.60,875.00 C1274.37,881.10 1274.91,887.93 1275.90,893.30 C1276.69,897.60 1277.46,904.65 1278.70,904.80 C1279.70,904.92 1281.15,900.40 1282.30,897.90 C1283.60,895.08 1285.03,892.13 1286.00,888.70 C1287.14,884.64 1287.70,879.91 1288.30,875.00 C1288.99,869.36 1289.22,862.81 1289.70,856.70 C1290.18,850.57 1290.72,844.43 1291.20,838.30 C1291.68,832.19 1292.06,826.47 1292.60,820.00 C1293.21,812.68 1293.68,803.61 1294.70,796.60 C1295.55,790.79 1296.47,783.98 1297.90,780.80 C1298.61,779.22 1299.27,777.88 1300.30,777.60 C1301.36,777.31 1303.15,779.71 1304.20,779.20 C1305.94,778.36 1306.41,772.15 1307.40,768.10 C1308.57,763.32 1309.48,757.81 1310.60,752.30 C1311.83,746.26 1313.21,739.76 1314.50,733.30 C1315.84,726.58 1317.26,719.28 1318.50,712.70 C1319.64,706.66 1320.48,699.99 1321.70,695.30 C1322.56,692.02 1323.09,687.50 1324.50,687.10 C1325.63,686.78 1327.65,688.86 1328.80,690.60 C1330.46,693.11 1331.12,697.64 1332.00,701.70 C1333.03,706.47 1333.52,712.23 1334.30,717.50 C1335.08,722.77 1335.80,728.61 1336.70,733.30 C1337.43,737.12 1337.67,741.76 1339.10,743.60 C1339.92,744.66 1341.12,745.26 1342.20,745.20 C1343.47,745.13 1344.87,742.35 1346.20,742.50 C1347.80,742.68 1349.71,745.57 1351.00,747.60 C1352.41,749.83 1353.26,752.29 1354.10,755.50 C1355.31,760.11 1355.68,767.24 1356.50,772.90 C1357.28,778.30 1358.05,783.08 1358.90,788.70 C1359.87,795.11 1360.72,802.92 1362.00,809.30 C1363.14,814.95 1364.61,820.14 1366.00,825.10 C1367.25,829.58 1368.67,834.47 1369.90,837.80 C1370.73,840.04 1371.55,843.38 1372.30,843.30 C1373.50,843.18 1374.45,833.88 1375.50,828.30 C1376.82,821.31 1377.95,812.50 1379.40,804.60 C1380.85,796.66 1382.59,788.58 1384.20,780.80 C1385.76,773.29 1387.49,766.34 1388.90,758.70 C1390.41,750.55 1391.59,740.96 1392.90,733.30 C1393.98,726.95 1394.58,720.49 1396.10,715.90 C1397.17,712.66 1398.39,709.75 1400.00,708.00 C1401.17,706.73 1402.57,706.08 1404.00,705.60 C1405.41,705.12 1407.00,705.27 1408.50,705.10" stroke="#000" stroke-width="3.0"/>
<path d="M1340.6,926 L1342.6,920.2" stroke="#000" stroke-width="2.8"/>
<path d="M1345.5,924.2 C1347.5,922.8 1350,921.6 1352.2,923.2" stroke="#000" stroke-width="2.8"/>
</g>
<g stroke="#505050" stroke-width="1.45"><line x1="191.3" y1="203.0" x2="191.3" y2="935.5"/><line x1="1408.5" y1="203.0" x2="1408.5" y2="924.5"/><line x1="180.3" y1="924.5" x2="1419.7" y2="924.5"/><line x1="185.50" y1="910.07" x2="191.3" y2="910.07"/><line x1="185.50" y1="895.64" x2="191.3" y2="895.64"/><line x1="185.50" y1="881.21" x2="191.3" y2="881.21"/><line x1="185.50" y1="866.78" x2="191.3" y2="866.78"/><line x1="180.50" y1="852.35" x2="191.3" y2="852.35"/><line x1="185.50" y1="837.92" x2="191.3" y2="837.92"/><line x1="185.50" y1="823.49" x2="191.3" y2="823.49"/><line x1="185.50" y1="809.06" x2="191.3" y2="809.06"/><line x1="185.50" y1="794.63" x2="191.3" y2="794.63"/><line x1="180.50" y1="780.20" x2="191.3" y2="780.20"/><line x1="185.50" y1="765.77" x2="191.3" y2="765.77"/><line x1="185.50" y1="751.34" x2="191.3" y2="751.34"/><line x1="185.50" y1="736.91" x2="191.3" y2="736.91"/><line x1="185.50" y1="722.48" x2="191.3" y2="722.48"/><line x1="180.50" y1="708.05" x2="191.3" y2="708.05"/><line x1="185.50" y1="693.62" x2="191.3" y2="693.62"/><line x1="185.50" y1="679.19" x2="191.3" y2="679.19"/><line x1="185.50" y1="664.76" x2="191.3" y2="664.76"/><line x1="185.50" y1="650.33" x2="191.3" y2="650.33"/><line x1="180.50" y1="635.90" x2="191.3" y2="635.90"/><line x1="185.50" y1="621.47" x2="191.3" y2="621.47"/><line x1="185.50" y1="607.04" x2="191.3" y2="607.04"/><line x1="185.50" y1="592.61" x2="191.3" y2="592.61"/><line x1="185.50" y1="578.18" x2="191.3" y2="578.18"/><line x1="180.50" y1="563.75" x2="191.3" y2="563.75"/><line x1="185.50" y1="549.32" x2="191.3" y2="549.32"/><line x1="185.50" y1="534.89" x2="191.3" y2="534.89"/><line x1="185.50" y1="520.46" x2="191.3" y2="520.46"/><line x1="185.50" y1="506.03" x2="191.3" y2="506.03"/><line x1="180.50" y1="491.60" x2="191.3" y2="491.60"/><line x1="185.50" y1="477.17" x2="191.3" y2="477.17"/><line x1="185.50" y1="462.74" x2="191.3" y2="462.74"/><line x1="185.50" y1="448.31" x2="191.3" y2="448.31"/><line x1="185.50" y1="433.88" x2="191.3" y2="433.88"/><line x1="180.50" y1="419.45" x2="191.3" y2="419.45"/><line x1="185.50" y1="405.02" x2="191.3" y2="405.02"/><line x1="185.50" y1="390.59" x2="191.3" y2="390.59"/><line x1="185.50" y1="376.16" x2="191.3" y2="376.16"/><line x1="185.50" y1="361.73" x2="191.3" y2="361.73"/><line x1="180.50" y1="347.30" x2="191.3" y2="347.30"/><line x1="185.50" y1="332.87" x2="191.3" y2="332.87"/><line x1="185.50" y1="318.44" x2="191.3" y2="318.44"/><line x1="185.50" y1="304.01" x2="191.3" y2="304.01"/><line x1="185.50" y1="289.58" x2="191.3" y2="289.58"/><line x1="180.50" y1="275.15" x2="191.3" y2="275.15"/><line x1="185.50" y1="260.72" x2="191.3" y2="260.72"/><line x1="185.50" y1="246.29" x2="191.3" y2="246.29"/><line x1="185.50" y1="231.86" x2="191.3" y2="231.86"/><line x1="185.50" y1="217.43" x2="191.3" y2="217.43"/><line x1="1408.5" y1="888.42" x2="1414.30" y2="888.42"/><line x1="1408.5" y1="852.35" x2="1414.30" y2="852.35"/><line x1="1408.5" y1="816.27" x2="1414.30" y2="816.27"/><line x1="1408.5" y1="780.20" x2="1414.30" y2="780.20"/><line x1="1408.5" y1="744.12" x2="1419.70" y2="744.12"/><line x1="1408.5" y1="708.05" x2="1414.30" y2="708.05"/><line x1="1408.5" y1="671.98" x2="1414.30" y2="671.98"/><line x1="1408.5" y1="635.90" x2="1414.30" y2="635.90"/><line x1="1408.5" y1="599.83" x2="1414.30" y2="599.83"/><line x1="1408.5" y1="563.75" x2="1419.70" y2="563.75"/><line x1="1408.5" y1="527.67" x2="1414.30" y2="527.67"/><line x1="1408.5" y1="491.60" x2="1414.30" y2="491.60"/><line x1="1408.5" y1="455.52" x2="1414.30" y2="455.52"/><line x1="1408.5" y1="419.45" x2="1414.30" y2="419.45"/><line x1="1408.5" y1="383.38" x2="1419.70" y2="383.38"/><line x1="1408.5" y1="347.30" x2="1414.30" y2="347.30"/><line x1="1408.5" y1="311.23" x2="1414.30" y2="311.23"/><line x1="1408.5" y1="275.15" x2="1414.30" y2="275.15"/><line x1="1408.5" y1="239.08" x2="1414.30" y2="239.08"/><line x1="474.90" y1="924.5" x2="474.90" y2="935.5"/><line x1="880.63" y1="924.5" x2="880.63" y2="935.5"/><line x1="1286.36" y1="924.5" x2="1286.36" y2="935.5"/></g>
<line x1="180.3" y1="203.0" x2="1419.7" y2="203.0" stroke="#858585" stroke-width="1.8"/>
<g font-family="'Liberation Sans', sans-serif" font-size="25.6" fill="#000"><text transform="translate(173.8,934.00) scale(1,1.045)" text-anchor="end">55</text><text transform="translate(173.8,861.85) scale(1,1.045)" text-anchor="end">60</text><text transform="translate(173.8,789.70) scale(1,1.045)" text-anchor="end">65</text><text transform="translate(173.8,717.55) scale(1,1.045)" text-anchor="end">70</text><text transform="translate(173.8,645.40) scale(1,1.045)" text-anchor="end">75</text><text transform="translate(173.8,573.25) scale(1,1.045)" text-anchor="end">80</text><text transform="translate(173.8,501.10) scale(1,1.045)" text-anchor="end">85</text><text transform="translate(173.8,428.95) scale(1,1.045)" text-anchor="end">90</text><text transform="translate(173.8,356.80) scale(1,1.045)" text-anchor="end">95</text><text transform="translate(173.8,284.65) scale(1,1.045)" text-anchor="end">100</text><text transform="translate(173.8,212.50) scale(1,1.045)" text-anchor="end">105</text><text transform="translate(1425.2,934.00) scale(1,1.045)" text-anchor="start">0</text><text transform="translate(1425.2,753.62) scale(1,1.045)" text-anchor="start">50</text><text transform="translate(1425.2,573.25) scale(1,1.045)" text-anchor="start">100</text><text transform="translate(1425.2,392.88) scale(1,1.045)" text-anchor="start">150</text><text transform="translate(1425.2,212.50) scale(1,1.045)" text-anchor="start">200</text><text transform="translate(191.70,960.8) scale(1,1.035)" text-anchor="middle">20</text><text transform="translate(475.30,960.8) scale(1,1.035)" text-anchor="middle">100</text><text transform="translate(881.03,960.8) scale(1,1.035)" text-anchor="middle">1000</text><text transform="translate(1286.76,960.8) scale(1,1.035)" text-anchor="middle">10000</text></g>
<text transform="translate(800,1009.7) scale(1,1.043)" text-anchor="middle" font-family="'Liberation Sans', sans-serif" font-size="35.0" fill="#000">Frequency (Hz)</text>
<text transform="translate(63,563.6) rotate(-90) scale(1,1.043)" text-anchor="middle" font-family="'Liberation Sans', sans-serif" font-size="34.8" fill="#000">SPL (dB) @ 2.83V, 1m, half space</text>
<text transform="translate(1496,564.2) rotate(90) scale(1,1.043)" text-anchor="middle" font-family="'Liberation Sans', sans-serif" font-size="34.65" fill="#000">Impedance (Ohm)</text>
<rect x="197.5" y="204.2" width="321" height="6" fill="#fff"/>
<rect x="198.5" y="210.3" width="318.9" height="113" fill="#fff" stroke="#000" stroke-width="1.55"/>
<line x1="210" y1="232.5" x2="280" y2="232.5" stroke="#c4382a" stroke-width="2.9"/>
<line x1="210" y1="267.3" x2="280" y2="267.3" stroke="#000" stroke-width="2.8"/>
<line x1="209" y1="302" x2="281" y2="302" stroke="#000" stroke-width="2.8" stroke-dasharray="5.5 4.5 14.2 4.6 14.2 4.6 14.2 4.6 14.2" />
<g font-family="'Liberation Sans', sans-serif" font-size="28.8" fill="#000"><text transform="translate(303.5,243.3) scale(1,1.04)">Impedance</text><text transform="translate(303.5,277.8) scale(1,1.04)">on axis</text><text transform="translate(303.5,312.3) scale(1,1.04)">45° off axis</text></g>
</svg>
</body></html>
